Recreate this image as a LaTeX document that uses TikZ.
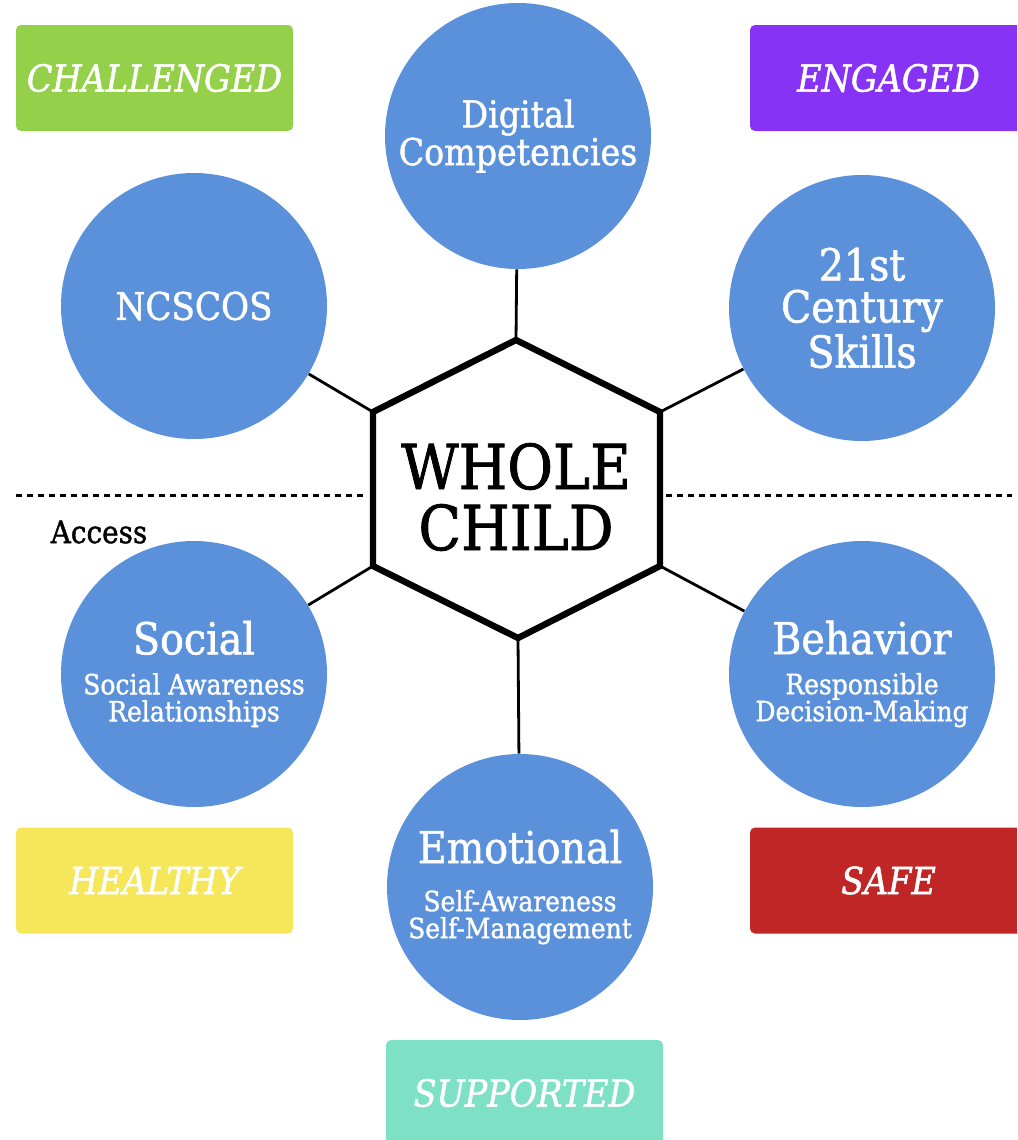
\documentclass[tikz,border=0pt]{standalone}
\usepackage{fontspec}
\setmainfont{DejaVu Serif Condensed}[FakeBold=1.3]
\usepackage{tikz}

\definecolor{circblue}{HTML}{5B91DB}
\definecolor{tgreen}{HTML}{94D04A}
\definecolor{tpurple}{HTML}{8733F5}
\definecolor{tyellow}{HTML}{F6E659}
\definecolor{tred}{HTML}{C02626}
\definecolor{tteal}{HTML}{7EE0C5}

\newcommand{\bigline}{\fontsize{22}{20}\selectfont}
\newcommand{\smallline}{\fontsize{13.9}{13.5}\selectfont}

\begin{document}
\begin{tikzpicture}[x=0.5pt, y=-0.5pt,
	topic/.style = {circle, fill=circblue, text=white, minimum size=133pt, inner sep=0pt, align=center},
	tag/.style = {rectangle, rounded corners=2.5pt, minimum width=138.5pt, minimum height=53pt, text=white, font=\fontsize{18.6}{20}\selectfont\itshape},
	link/.style = {line width=1.4pt},
	divider/.style = {line width=1.5pt, dash pattern=on 3pt off 2.5pt}]
	\useasboundingbox (0,0) rectangle (1017,1140);
	\clip (0,0) rectangle (1017,1140);
	% corner tags
	\node[tag, fill=tgreen] (challenged) at (154.5,78) {CHALLENGED};
	\node[tag, fill=tpurple] (engaged) at (888.5,78) {ENGAGED};
	\node[tag, fill=tyellow] (healthy) at (154.5,880.5) {HEALTHY};
	\node[tag, fill=tred] (safe) at (888.5,880.5) {SAFE};
	\node[tag, fill=tteal] (supported) at (524.5,1093) {SUPPORTED};
	% circles
	\node[topic, font=\fontsize{18.5}{17}\selectfont] (digital) at (518,136) {Digital\\Competencies};
	\node[topic, font=\fontsize{19}{20}\selectfont] (ncscos) at (194,306) {NCSCOS};
	\node[topic, font=\fontsize{22}{21}\selectfont] (century) at (862,308) {21st\\Century\\Skills};
	\node[topic, font=\bigline] (social) at (194,674) {Social\\[0pt]
		\smallline Social Awareness\\[-6.5pt]\smallline Relationships};
	\node[topic, font=\bigline] (behavior) at (862,674) {Behavior\\[0pt]
		\smallline Responsible\\[-6.5pt]\smallline Decision-Making};
	\node[topic, font=\bigline] (emotional) at (520,887) {Emotional\\[4pt]
		\smallline Self-Awareness\\[-6.5pt]\smallline Self-Management};
	% hexagon
	\coordinate (hexT) at (516,340);
	\coordinate (hexUR) at (660,412);
	\coordinate (hexLR) at (660,566);
	\coordinate (hexB) at (518,638);
	\coordinate (hexLL) at (373,566);
	\coordinate (hexUL) at (373,412);
	\draw[line width=3.2pt, line join=miter] (hexT) -- (hexUR) -- (hexLR) -- (hexB) -- (hexLL) -- (hexUL) -- cycle;
	\node[font=\fontsize{31}{30.5}\selectfont, align=center] (whole) at (516,497) {WHOLE\\CHILD};
	\draw[link] (hexT) -- (digital);
	\draw[link] (hexUL) -- (ncscos);
	\draw[link] (hexUR) -- (century);
	\draw[link] (hexLL) -- (social);
	\draw[link] (hexLR) -- (behavior);
	\draw[link] (hexB) -- (emotional);
	% access line
	\coordinate (divLa) at (16,495);
	\coordinate (divLb) at (365,495);
	\coordinate (divRa) at (666,495);
	\coordinate (divRb) at (1012,495);
	\draw[divider] (divLa) -- (divLb);
	\draw[divider] (divRa) -- (divRb);
	\node[font=\fontsize{15.5}{16}\selectfont] (access) at (99,532) {Access};
\end{tikzpicture}
\end{document}
